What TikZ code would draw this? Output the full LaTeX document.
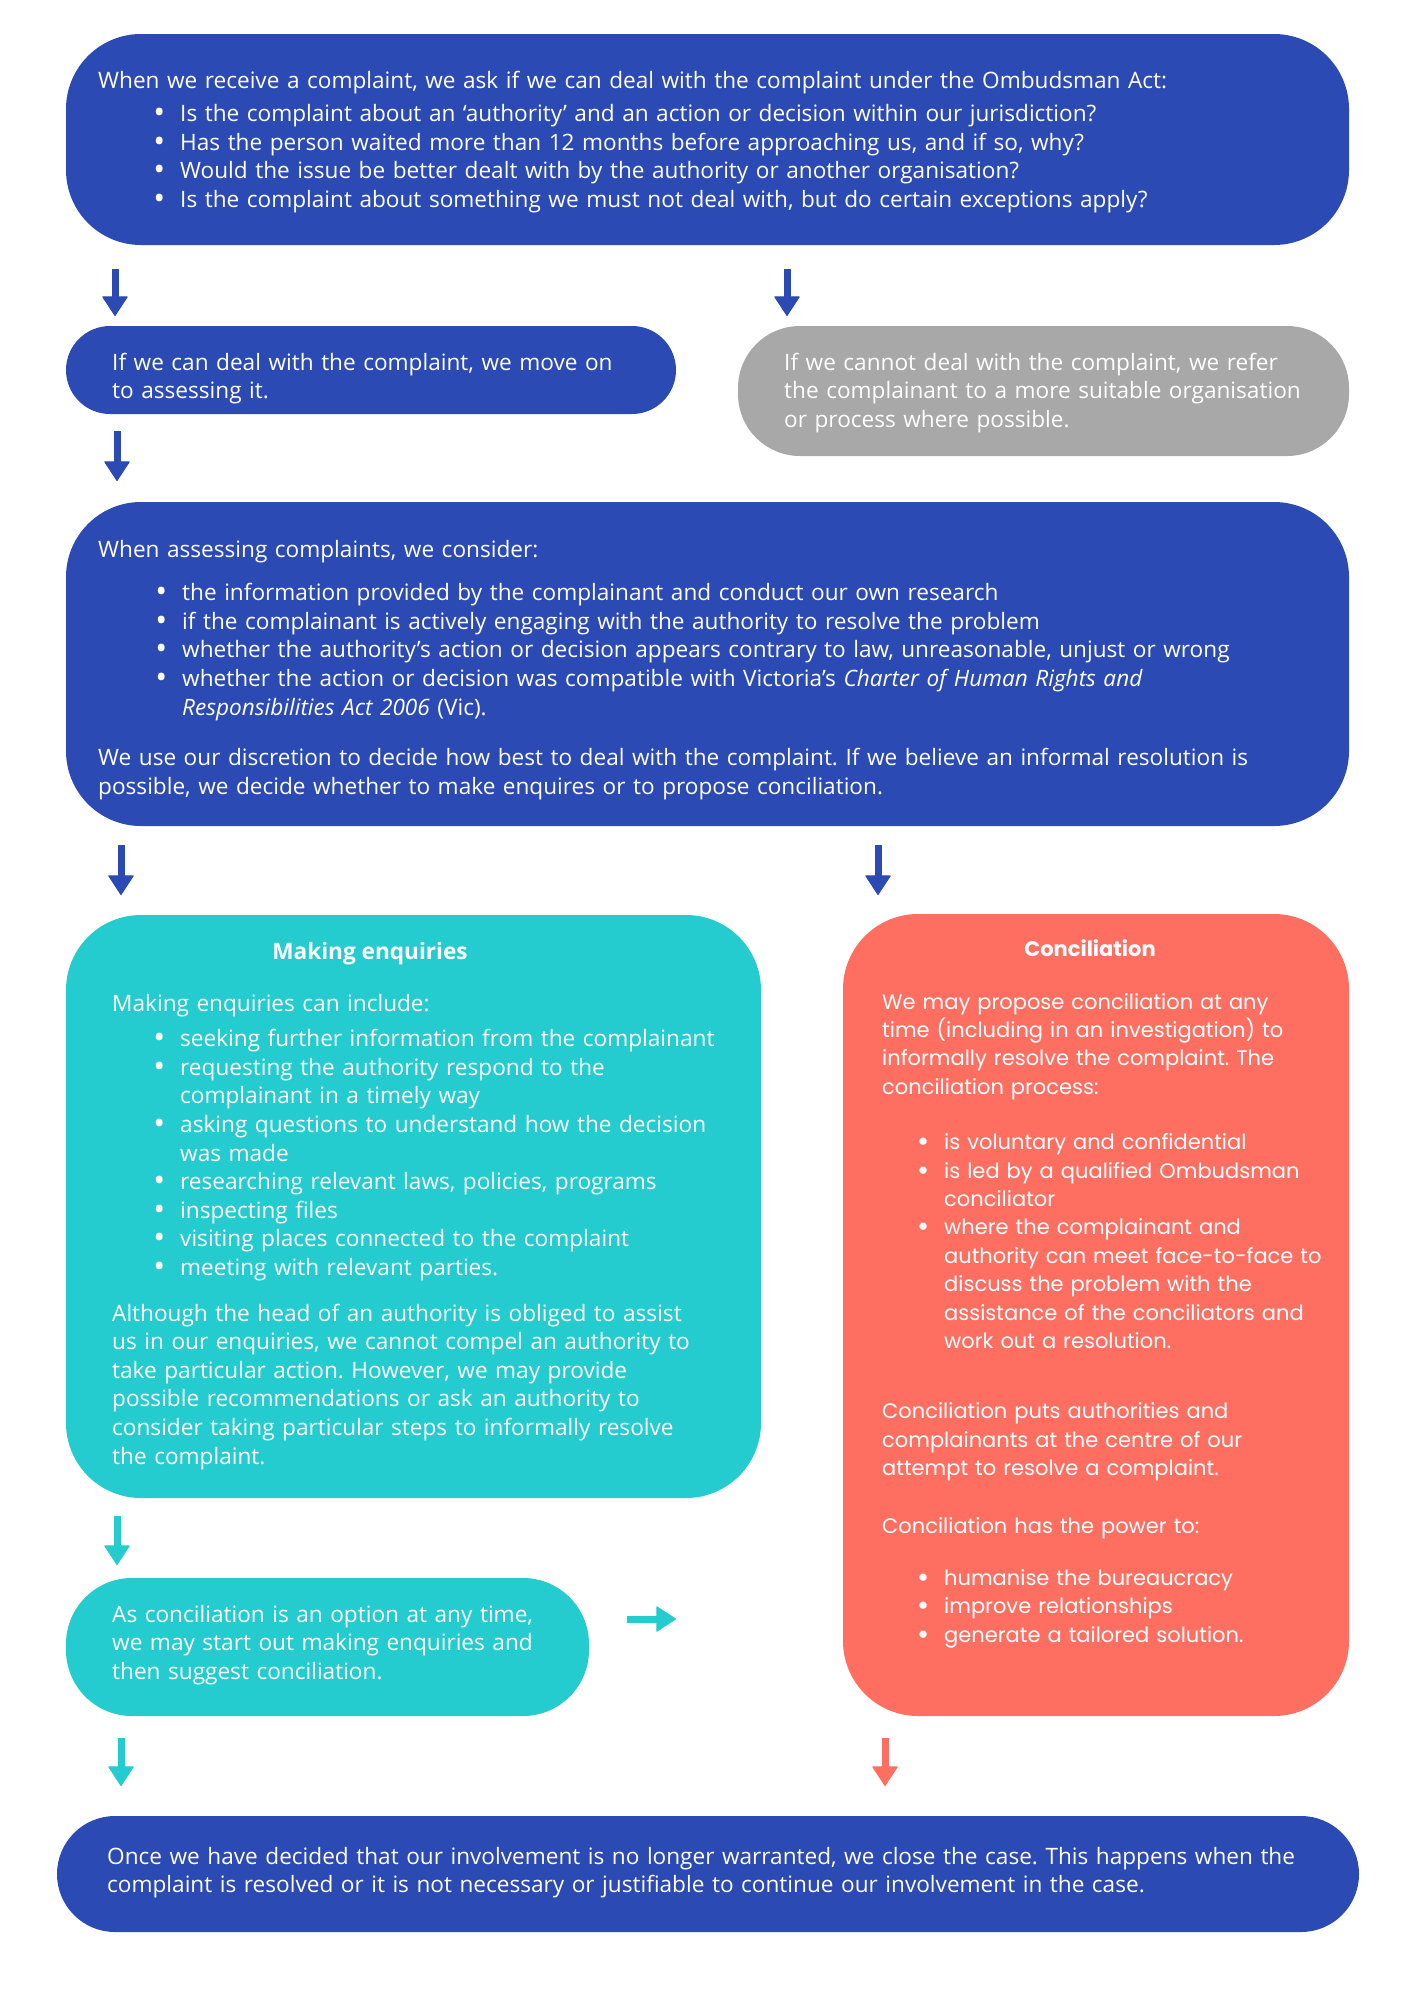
\documentclass[tikz,border=0pt]{standalone}
\usepackage{graphicx}
\usepackage{fontspec}
\setmainfont{Open Sans}
\newfontfamily\concfont{Poppins}
\usetikzlibrary{arrows.meta}

\definecolor{ombblue}{RGB}{43,74,180}
\definecolor{ombteal}{RGB}{36,204,207}
\definecolor{ombcoral}{RGB}{255,111,97}
\definecolor{ombgrey}{RGB}{168,168,168}

\setlength{\parindent}{0pt}
\frenchspacing
% bullet line with hanging indent
\newcommand{\blt}[1][82pt]{\par\hangindent=#1\hangafter=0\noindent
  \llap{\raisebox{-2pt}{\scalebox{1.4}{\textbullet}}\hspace{15pt}}\ignorespaces}
\newcommand{\gap}[1]{\par\vspace{#1}}

\begin{document}
\begin{tikzpicture}[x=1pt, y=-1pt,
  box/.style={anchor=north west, inner sep=0pt, outer sep=0pt, fill=#1},
  txt/.style={anchor=base west, inner sep=0pt, text width=#1, align=left, text=white,
    font=\fontsize{22.6}{28.6}\selectfont},
  ctxt/.style={txt=#1, font=\concfont\fontsize{21}{28.4}\selectfont},
  head/.style={anchor=base, inner sep=0pt, text=white, font=\fontsize{22.6}{28.6}\selectfont\bfseries},
  flow/.style={draw=#1, line width=7pt, -{Triangle[width=26pt,length=20pt,line width=1pt,round]}}]
\useasboundingbox (0,0) rectangle (1414,2000);

% boxes
\node[box=ombblue, minimum width=1283pt, minimum height=211pt, rounded corners=75pt] (ask) at (66,34) {};
\node[box=ombblue, minimum width=610pt, minimum height=88pt, rounded corners=44pt] (can) at (66,326) {};
\node[box=ombgrey, minimum width=611pt, minimum height=130pt, rounded corners=62pt] (cannot) at (738,326) {};
\node[box=ombblue, minimum width=1283pt, minimum height=324pt, rounded corners=75pt] (assess) at (66,502) {};
\node[box=ombteal, minimum width=695pt, minimum height=583pt, rounded corners=75pt] (enq) at (66,915) {};
\node[box=ombteal, minimum width=523pt, minimum height=138pt, rounded corners=66pt] (asconc) at (66,1578) {};
\node[box=ombcoral, minimum width=506pt, minimum height=802pt, rounded corners=75pt] (concil) at (843,914) {};
\node[box=ombblue, minimum width=1302pt, minimum height=116pt, rounded corners=58pt] (close) at (57,1816) {};

% texts
\node[txt=1230pt] (asktxt) at (98,88) {When we receive a complaint, we ask if we can deal with the complaint under the Ombudsman Act:
\gap{5pt}
\blt Is the complaint about an ‘authority’ and an action or decision within our jurisdiction?
\blt Has the person waited more than 12 months before approaching us, and if so, why?
\blt Would the issue be better dealt with by the authority or another organisation?
\blt Is the complaint about something we must not deal with, but do certain exceptions apply?\par};

\node[txt=580pt] (cantxt) at (112,370) {If we can deal with the complaint, we move on\newline to assessing it.};

\node[txt=580pt] (cannottxt) at (784,370) {If we cannot deal with the complaint, we refer\newline the complainant to a more suitable organisation\newline or process where possible.};

\node[txt=1230pt] (assesstxt) at (98,557) {When assessing complaints, we consider:
\gap{15pt}
\blt[84pt] the information provided by the complainant and conduct our own research
\blt[84pt] if the complainant is actively engaging with the authority to resolve the problem
\blt[84pt] whether the authority’s action or decision appears contrary to law, unreasonable, unjust or wrong
\blt[84pt] whether the action or decision was compatible with Victoria’s \textit{Charter of Human Rights and}\newline \textit{Responsibilities Act 2006} (Vic).
\gap{22pt}
We use our discretion to decide how best to deal with the complaint. If we believe an informal resolution is\newline possible, we decide whether to make enquires or to propose conciliation.\par};

\node[head] (enqhead) at (370,959) {Making enquiries};
\node[txt=660pt] (enqtxt) at (112,1011) {Making enquiries can include:
\gap{7pt}
\blt[68pt] seeking further information from the complainant
\blt[68pt] requesting the authority respond to the\newline complainant in a timely way
\blt[68pt] asking questions to understand how the decision\newline was made
\blt[68pt] researching relevant laws, policies, programs
\blt[68pt] inspecting files
\blt[68pt] visiting places connected to the complaint
\blt[68pt] meeting with relevant parties.
\gap{17pt}
Although the head of an authority is obliged to assist\newline us in our enquiries, we cannot compel an authority to\newline take particular action. However, we may provide\newline possible recommendations or ask an authority to\newline consider taking particular steps to informally resolve\newline the complaint.\par};

\node[txt=500pt] (asconctxt) at (112,1622) {As conciliation is an option at any time,\newline we may start out making enquiries and\newline then suggest conciliation.};

\node[head, font=\concfont\fontsize{21}{28.4}\selectfont\bfseries] (concilhead) at (1090,956) {Conciliation};
\node[ctxt=460pt] (conciltxt) at (882,1009) {We may propose conciliation at any\newline time (including in an investigation) to\newline informally resolve the complaint. The\newline conciliation process:
\gap{27pt}
\blt[62pt] is voluntary and confidential
\blt[62pt] is led by a qualified Ombudsman\newline conciliator
\blt[62pt] where the complainant and\newline authority can meet face-to-face to\newline discuss the problem with the\newline assistance of the conciliators and\newline work out a resolution.
\gap{42pt}
Conciliation puts authorities and\newline complainants at the centre of our\newline attempt to resolve a complaint.
\gap{29pt}
Conciliation has the power to:
\gap{24pt}
\blt[62pt] humanise the bureaucracy
\blt[62pt] improve relationships
\blt[62pt] generate a tailored solution.\par};

\node[txt=1260pt] (closetxt) at (107,1864) {Once we have decided that our involvement is no longer warranted, we close the case. This happens when the\newline complaint is resolved or it is not necessary or justifiable to continue our involvement in the case.};

% arrows
\draw[flow=ombblue, shorten <=24pt, shorten >=10pt] ([xshift=49pt]ask.south west) -- ([xshift=49pt]can.north west);
\draw[flow=ombblue, shorten <=24pt, shorten >=10pt] ([xshift=721pt]ask.south west) -- ([xshift=49pt]cannot.north west);
\draw[flow=ombblue, shorten <=17pt, shorten >=21pt] ([xshift=51pt]can.south west) -- ([xshift=51pt]assess.north west);
\draw[flow=ombblue, shorten <=19pt, shorten >=20pt] ([xshift=55pt]assess.south west) -- ([xshift=55pt]enq.north west);
\draw[flow=ombblue, shorten <=19pt, shorten >=19pt] ([xshift=812pt]assess.south west) -- ([xshift=35pt]concil.north west);
\draw[flow=ombteal, shorten <=18pt, shorten >=13pt] ([xshift=51pt]enq.south west) -- ([xshift=51pt]asconc.north west);
\draw[flow=ombteal, shorten <=22pt, shorten >=30pt] ([xshift=55pt]asconc.south west) -- ([xshift=64pt]close.north west);
\draw[flow=ombcoral, shorten <=22pt, shorten >=30pt] ([xshift=42pt]concil.south west) -- ([xshift=828pt]close.north west);
\coordinate (jump) at ([yshift=28pt]asconc.east);
\draw[flow=ombteal, shorten <=38pt, shorten >=167pt] (jump) -- (jump -| concil.west);
\end{tikzpicture}
\end{document}
